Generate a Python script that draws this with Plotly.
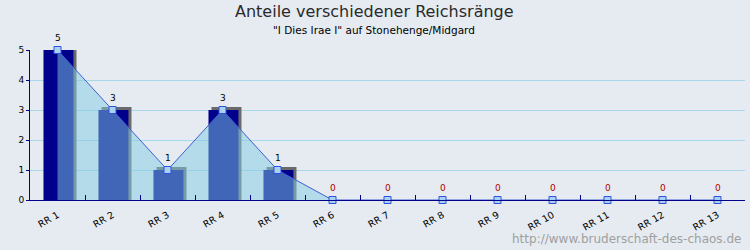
import plotly.graph_objects as go

categories = ["RR 1", "RR 2", "RR 3", "RR 4", "RR 5", "RR 6", "RR 7",
              "RR 8", "RR 9", "RR 10", "RR 11", "RR 12", "RR 13"]
values = [5, 3, 1, 3, 1, 0, 0, 0, 0, 0, 0, 0, 0]

title_text = "Anteile verschiedener Reichsränge"
subtitle_text = '"I Dies Irae I" auf Stonehenge/Midgard'
watermark_text = "http://www.bruderschaft-des-chaos.de"

BG = "#E5EBF1"
NAVY = "#00008C"
FONT = "DejaVu Sans"

shadow_vals = [v + 0.1 if v > 0 else 0 for v in values]

fig = go.Figure()

# 3D shadow
fig.add_trace(go.Bar(
    x=categories, y=shadow_vals, width=0.545, offset=-0.2,
    marker=dict(color="#6A6A6A", line=dict(width=0)),
    hoverinfo="skip", showlegend=False,
))
# main bars
fig.add_trace(go.Bar(
    x=categories, y=values, width=0.545, offset=-0.255,
    marker=dict(color=NAVY, line=dict(width=0)),
    showlegend=False,
))
# area + line
fig.add_trace(go.Scatter(
    x=categories, y=values, mode="lines+markers",
    fill="tozeroy", fillcolor="rgba(130,204,228,0.5)",
    line=dict(color="#4060D0", width=1),
    marker=dict(symbol="square", size=7, color="#A8D2F0",
                line=dict(color="#3050E0", width=1)),
    cliponaxis=False, showlegend=False,
))

annotations = []
for c, v in zip(categories, values):
    annotations.append(dict(
        x=c, y=v, xref="x", yref="y", text=str(v), showarrow=False,
        yanchor="bottom", yshift=5,
        font=dict(family=FONT, size=9, color="#000000" if v > 0 else "#B00000"),
    ))

annotations += [
    dict(x=(374 - 30) / 715, y=(200 - 12) / 150, xref="paper", yref="paper",
         text=title_text, showarrow=False, xanchor="center", yanchor="middle",
         font=dict(family=FONT, size=16, color="#2A2A2A")),
    dict(x=(374 - 30) / 715, y=(200 - 30) / 150, xref="paper", yref="paper",
         text=subtitle_text, showarrow=False, xanchor="center", yanchor="middle",
         font=dict(family=FONT, size=10.5, color="#000000")),
    dict(x=(743 - 30) / 715, y=(200 - 239) / 150, xref="paper", yref="paper",
         text=watermark_text, showarrow=False, xanchor="right", yanchor="middle",
         font=dict(family=FONT, size=12, color="#A0A0A0")),
]

fig.update_layout(
    width=750, height=250,
    margin=dict(l=30, r=5, t=50, b=50),
    paper_bgcolor=BG, plot_bgcolor=BG,
    barmode="overlay",
    annotations=annotations,
    font=dict(family=FONT, size=9, color="#000000"),
    xaxis=dict(
        type="category", range=[-0.5, 12.5],
        showgrid=False, showline=True, linecolor=NAVY, linewidth=1,
        tickson="boundaries", ticks="inside", ticklen=5, tickcolor=NAVY,
        tickangle=-30, ticklabelstandoff=5,
        tickfont=dict(family=FONT, size=9.5, color="#000000"),
        zeroline=False,
    ),
    yaxis=dict(
        range=[0, 5], dtick=1, showgrid=True, gridcolor="#A8D8EA", gridwidth=1,
        showline=True, linecolor=NAVY, linewidth=1,
        ticks="outside", ticklen=3, tickcolor=NAVY,
        tickfont=dict(family=FONT, size=9, color="#000000"),
        zeroline=False,
    ),
)

fig.write_html(
    "out.html",
    config={"displayModeBar": False},
    post_script="document.body.style.margin='0';document.body.style.overflow='hidden';",
)
